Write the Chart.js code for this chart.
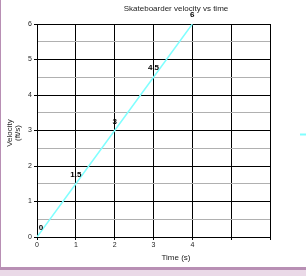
<!DOCTYPE html>
<html>
<head>
<meta charset="utf-8">
<script src="https://cdn.jsdelivr.net/npm/chart.js@4"></script>
<style>
    html, body { margin: 0; padding: 0; background: #ead9e7; }
    #box {
        position: absolute; left: 0; top: 0;
        width: 305px; height: 267px;
        background: #fff;
        border-left: 1px solid #b88fb4;
        border-bottom: 3px solid #b88fb4;
    }
    canvas { display: block; }
</style>
</head>
<body>
<div id="box"><canvas id="chart" width="305" height="267"></canvas></div>
<script>
const times = [0, 1, 2, 3, 4];
const velocities = [0, 1.5, 3, 4.5, 6];
const xTickLabels = ['0', '1', '2', '3', '4', '', ''];
const yTickLabels = ['0', '1', '2', '3', '4', '5', '6'];

const lineColor = '#80ffff';

const textPlugin = {
    id: 'textPlugin',
    afterDraw(chart) {
        const ctx = chart.ctx;
        const area = chart.chartArea;
        const xs = chart.scales.x;
        const ys = chart.scales.y;
        ctx.save();
        ctx.fillStyle = '#222';
        ctx.textAlign = 'center';
        ctx.textBaseline = 'middle';

        // title
        ctx.font = '8px "Liberation Sans", Arial, sans-serif';
        ctx.fillText('Skateboarder velocity vs time', 175, 9);

        // x axis title
        ctx.fillText('Time (s)', 175, 258);

        // y axis title
        ctx.save();
        ctx.translate(9, 133);
        ctx.rotate(-Math.PI / 2);
        ctx.fillText('Velocity', 0, 0);
        ctx.fillText('(ft/s)', 0, 8);
        ctx.restore();

        // data labels
        ctx.font = 'bold 8px "Liberation Sans", Arial, sans-serif';
        ctx.fillStyle = '#000';
        times.forEach((t, i) => {
            let px = xs.getPixelForValue(t);
            const py = ys.getPixelForValue(velocities[i]);
            if (px < area.left + 4) px = area.left + 4;
            ctx.fillText(String(velocities[i]), px, py - 9);
        });

        // legend marker (cut off at right edge)
        ctx.strokeStyle = lineColor;
        ctx.lineWidth = 2;
        ctx.beginPath();
        ctx.moveTo(299, 134.5);
        ctx.lineTo(306, 134.5);
        ctx.stroke();
        ctx.restore();
    }
};

new Chart(document.getElementById('chart'), {
    type: 'line',
    data: {
        datasets: [{
            label: 'Velocity',
            data: times.map((t, i) => ({ x: t, y: velocities[i] })),
            borderColor: lineColor,
            borderWidth: 1.5,
            pointRadius: 0,
            tension: 0
        }]
    },
    options: {
        responsive: false,
        animation: false,
        layout: { padding: { left: 0, top: 24, right: 36, bottom: 0 } },
        plugins: {
            legend: { display: false },
            tooltip: { enabled: false }
        },
        scales: {
            x: {
                type: 'linear',
                min: 0,
                max: 6,
                afterFit: s => { s.height = 30; },
                ticks: {
                    stepSize: 1,
                    color: '#222',
                    font: { size: 7, family: '"Liberation Sans", Arial, sans-serif' },
                    padding: 1,
                    maxRotation: 0,
                    callback: (v, i) => xTickLabels[i]
                },
                grid: { color: '#000', tickColor: '#000', tickLength: 3, lineWidth: 1 },
                border: { color: '#000' }
            },
            y: {
                min: 0,
                max: 6,
                afterFit: s => { s.width = 36; },
                ticks: {
                    stepSize: 0.5,
                    autoSkip: false,
                    color: '#222',
                    font: { size: 7, family: '"Liberation Sans", Arial, sans-serif' },
                    padding: 2,
                    callback: v => Number.isInteger(v) ? yTickLabels[v] : ''
                },
                grid: {
                    color: c => Number.isInteger(c.tick.value) ? '#000' : '#b0b0b0',
                    tickColor: c => Number.isInteger(c.tick.value) ? '#000' : 'rgba(0,0,0,0)',
                    tickLength: 3,
                    lineWidth: 1
                },
                border: { color: '#000' }
            }
        }
    },
    plugins: [textPlugin]
});
</script>
</body>
</html>
